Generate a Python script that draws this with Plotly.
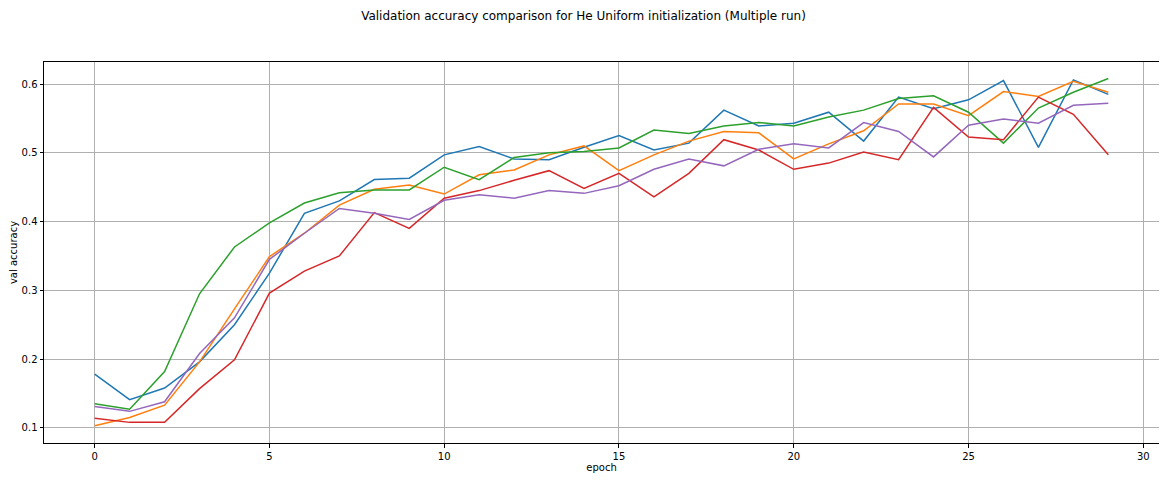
import plotly.graph_objects as go

# Validation accuracy per epoch, 5 runs
epochs = list(range(30))

run_1 = [0.178, 0.141, 0.158, 0.196, 0.250, 0.325, 0.412, 0.430, 0.461, 0.463,
         0.497, 0.509, 0.491, 0.490, 0.508, 0.525, 0.504, 0.514, 0.562, 0.539,
         0.543, 0.559, 0.517, 0.581, 0.564, 0.577, 0.605, 0.508, 0.606, 0.585]
run_2 = [0.103, 0.115, 0.133, 0.196, 0.273, 0.349, 0.383, 0.424, 0.447, 0.453,
         0.440, 0.468, 0.475, 0.497, 0.510, 0.474, 0.497, 0.517, 0.531, 0.529,
         0.491, 0.513, 0.532, 0.571, 0.571, 0.554, 0.589, 0.582, 0.604, 0.588]
run_3 = [0.135, 0.127, 0.182, 0.295, 0.363, 0.398, 0.427, 0.442, 0.446, 0.446,
         0.479, 0.461, 0.493, 0.500, 0.502, 0.507, 0.533, 0.528, 0.539, 0.544,
         0.539, 0.552, 0.562, 0.579, 0.583, 0.559, 0.514, 0.565, 0.588, 0.608]
run_4 = [0.114, 0.108, 0.108, 0.157, 0.199, 0.296, 0.328, 0.350, 0.413, 0.390,
         0.434, 0.445, 0.460, 0.474, 0.448, 0.470, 0.436, 0.470, 0.519, 0.504,
         0.476, 0.485, 0.501, 0.490, 0.566, 0.523, 0.519, 0.581, 0.556, 0.497]
run_5 = [0.131, 0.124, 0.138, 0.208, 0.260, 0.345, 0.383, 0.419, 0.412, 0.403,
         0.431, 0.439, 0.434, 0.445, 0.441, 0.452, 0.476, 0.491, 0.481, 0.505,
         0.513, 0.507, 0.544, 0.531, 0.494, 0.540, 0.549, 0.543, 0.569, 0.572]

runs = [run_1, run_2, run_3, run_4, run_5]
colors = ["#1f77b4", "#ff7f0e", "#2ca02c", "#d62728", "#9467bd"]

fig = go.Figure()
for i, (vals, col) in enumerate(zip(runs, colors)):
    fig.add_trace(
        go.Scatter(
            x=epochs,
            y=vals,
            mode="lines",
            line=dict(color=col, width=1.5),
            name=f"run {i + 1}",
        )
    )

# page body has an 8px margin, so the figure is sized to sit inside it
fig.update_layout(
    width=1151,
    height=465,
    margin=dict(l=36, r=0, t=54, b=30),
    plot_bgcolor="white",
    paper_bgcolor="white",
    showlegend=False,
    font=dict(family="DejaVu Sans", size=10, color="black"),
    title=dict(
        text="Validation accuracy comparison for He Uniform initialization (Multiple run)",
        x=0.5,
        xanchor="center",
        y=0.984,
        yanchor="middle",
        font=dict(size=12),
    ),
)

axis_style = dict(
    showline=True,
    linecolor="black",
    linewidth=1,
    mirror=True,
    ticks="outside",
    ticklen=3.5,
    tickcolor="black",
    showgrid=True,
    gridcolor="#b0b0b0",
    gridwidth=0.8,
    zeroline=False,
)

fig.update_xaxes(
    range=[-1.45, 30.45],
    tickvals=[0, 5, 10, 15, 20, 25, 30],
    title=dict(text="epoch", font=dict(size=10), standoff=3),
    **axis_style,
)
fig.update_yaxes(
    range=[0.078, 0.632],
    tickvals=[0.1, 0.2, 0.3, 0.4, 0.5, 0.6],
    tickformat=".1f",
    title=dict(text="val accuracy", font=dict(size=10), standoff=4),
    **axis_style,
)

fig.write_html("out.html")
